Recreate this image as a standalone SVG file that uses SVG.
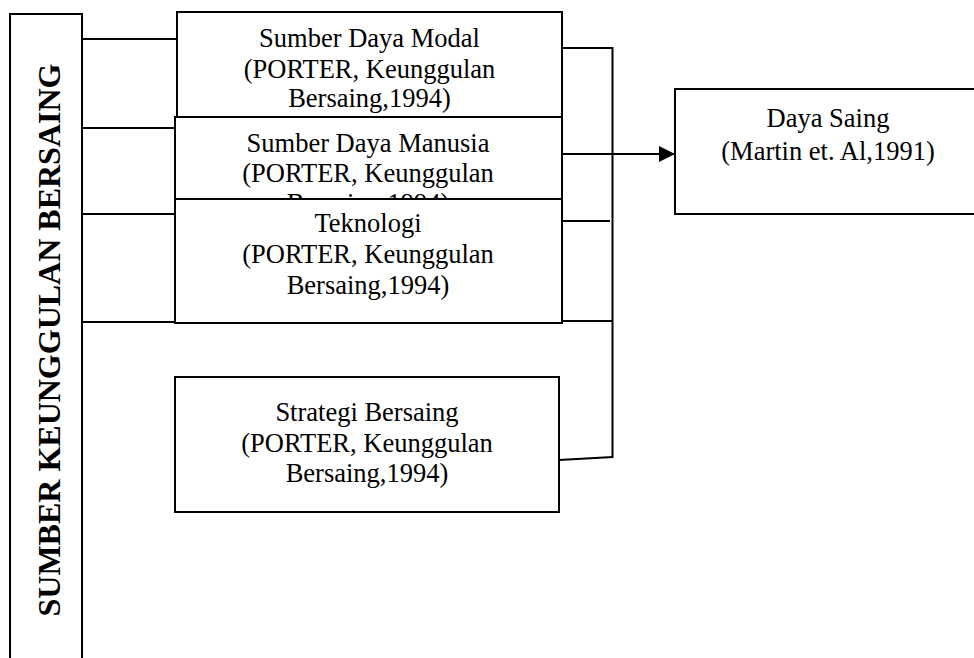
<svg xmlns="http://www.w3.org/2000/svg" width="974" height="658" viewBox="0 0 974 658">
<defs>
<style>
.box{fill:#fff;stroke:#000;stroke-width:2}
.ln{fill:none;stroke:#000;stroke-width:2}
.t{font-family:'Liberation Serif','DejaVu Serif',serif;font-size:26.5px;fill:#000;text-anchor:middle}
.side{font-family:'Liberation Serif','DejaVu Serif',serif;font-size:32px;font-weight:bold;fill:#000;text-anchor:middle}
</style>
<marker id="arr" markerWidth="16" markerHeight="16" refX="16" refY="8" orient="auto" markerUnits="userSpaceOnUse">
<path d="M0,0 L16,8 L0,16 Z" fill="#000"/>
</marker>
</defs>
<rect width="974" height="658" fill="#fff"/>
<g id="connectors">
<line class="ln" x1="82" y1="39" x2="177" y2="39"/>
<line class="ln" x1="82" y1="128" x2="175" y2="128"/>
<line class="ln" x1="82" y1="214" x2="175" y2="214"/>
<line class="ln" x1="82" y1="322" x2="175" y2="322"/>
<line class="ln" x1="562" y1="48" x2="613" y2="48"/>
<line class="ln" x1="562" y1="221" x2="610" y2="221"/>
<line class="ln" x1="562" y1="321" x2="612" y2="321"/>
<line class="ln" x1="559" y1="460" x2="613" y2="457"/>
<line class="ln" x1="612.5" y1="47" x2="612.5" y2="458"/>
<line class="ln" x1="562" y1="154" x2="675" y2="154" marker-end="url(#arr)"/>
</g>
<g id="sumber-keunggulan">
<rect class="box" x="10" y="14" width="72" height="660"/>
<text class="side" font-family="Liberation Serif, serif" transform="translate(60,340) rotate(-90)">SUMBER KEUNGGULAN BERSAING</text>
</g>
<g id="modal">
<rect class="box" x="177" y="12" width="385" height="120"/>
<text class="t" x="369.5" y="47">Sumber Daya Modal</text>
<text class="t" x="369.5" y="78">(PORTER, Keunggulan</text>
<text class="t" x="369.5" y="107">Bersaing,1994)</text>
</g>
<g id="manusia">
<rect class="box" x="175" y="117" width="387" height="110"/>
<text class="t" x="368" y="151.5">Sumber Daya Manusia</text>
<text class="t" x="368" y="181.5">(PORTER, Keunggulan</text>
<text class="t" x="368" y="211.5">Bersaing,1994)</text>
</g>
<g id="teknologi">
<rect class="box" x="175" y="199" width="387" height="124"/>
<text class="t" x="368" y="232">Teknologi</text>
<text class="t" x="368" y="263">(PORTER, Keunggulan</text>
<text class="t" x="368" y="294">Bersaing,1994)</text>
</g>
<g id="strategi">
<rect class="box" x="175" y="377" width="384" height="135"/>
<text class="t" x="367" y="421">Strategi Bersaing</text>
<text class="t" x="367" y="451.5">(PORTER, Keunggulan</text>
<text class="t" x="367" y="481.5">Bersaing,1994)</text>
</g>
<g id="daya-saing">
<rect class="box" x="675" y="89" width="320" height="125"/>
<text class="t" x="828" y="127">Daya Saing</text>
<text class="t" x="828" y="160">(Martin et. Al,1991)</text>
</g>
</svg>
